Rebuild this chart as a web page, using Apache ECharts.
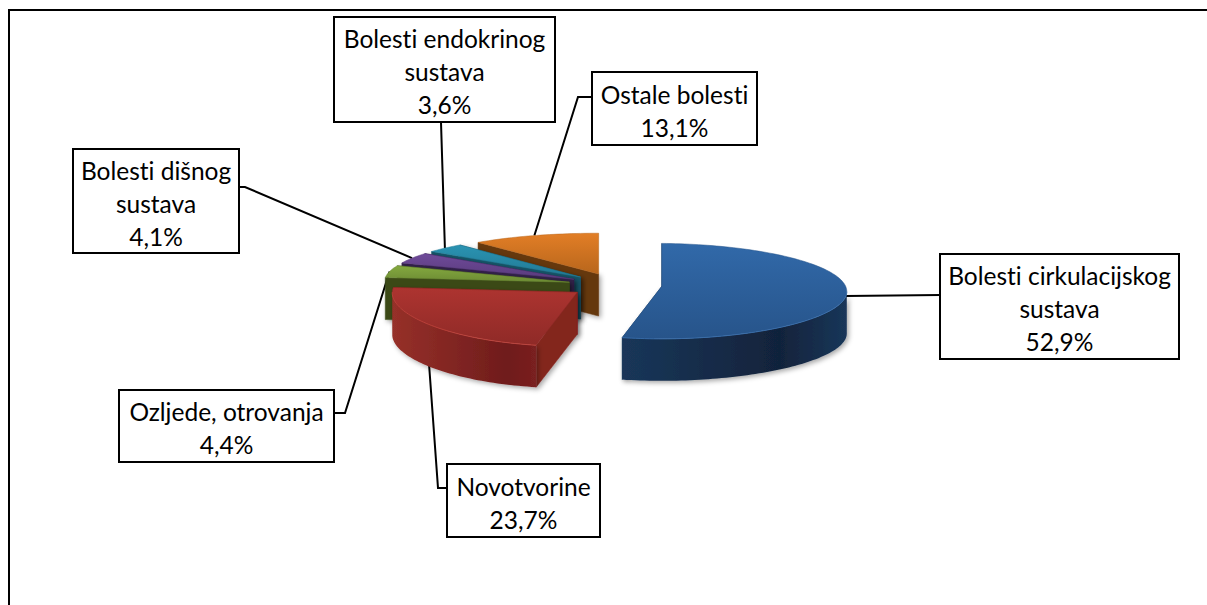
<!DOCTYPE html>
<html><head><meta charset="utf-8">
<style>html,body{margin:0;padding:0;background:#fff}#c{width:1207px;height:605px}
svg text{font-variant-ligatures:none !important;font-feature-settings:"liga" 0,"clig" 0 !important}</style>
<script src="https://cdn.jsdelivr.net/npm/echarts@6/dist/echarts.min.js"></script>
</head><body><div id="c"></div>
<script>
// ---- data ----
const categories = ['Bolesti cirkulacijskog sustava','Novotvorine','Ozljede, otrovanja','Bolesti dišnog sustava','Bolesti endokrinog sustava','Ostale bolesti'];
// printed percentages
const printedLabels = ['52,9%','23,7%','4,4%','4,1%','3,6%','13,1%'];
// slice shares as drawn (the orange slice is drawn about 11,3 % wide)
const sliceShares = [52.9,23.7,4.4,4.1,3.6,11.3];
const labelLines = [['Bolesti cirkulacijskog','sustava'],['Novotvorine'],['Ozljede, otrovanja'],['Bolesti dišnog','sustava'],['Bolesti endokrinog','sustava'],['Ostale bolesti']];

// ---- styles and layout ----
const topColors = [['#3169a9','#27548a'],['#ad3430','#8f2a27'],['#84a93f','#6c8b34'],['#6f4a99','#593b7c'],['#2a93b2','#227a95'],['#e27e26','#b8661c']];
const sideStops = [['#1f4068','#11233b','#1a3659'],['#963029','#6f1c1c','#7a2020'],['#3f4e1a','#39471a','#39471a'],['#3a2552','#33204a','#33204a'],['#1a5a70','#164d60','#164d60'],['#6b3a0d','#613409','#6b3a0d']];
const cutColors = ['#1a3659','#83251f','#3b4a18','#33204a','#185468','#65370c'];
const boxes = [[940,254,239,105],[447,464,153,73],[119,390,215,72],[73,149,166,104],[334,17,221,105],[592,72,165,73]];
const leaderElbows = [[[940,295]],[[438,488],[447,488]],[[345,413],[334,413]],[[245,187],[239,187]],[[441,122]],[[578,97],[592,97]]];
const drawOrder = [5,4,3,2,0,1];
const CX=615, CY=285, RX=185, RY=47, PERSP=0.1, EXPLODE=0.254, THICK=42, LINE_H=33;

function project(u,v){
  const s=1/(1-PERSP*v), sag=u>0?3.5*u*u:0, skew=v>0?6*v*v:0;
  return [CX+RX*u-skew, CY+RY*v*s+sag];
}
const total = sliceShares.reduce((a,b)=>a+b,0);
function geometry(i){
  let before=0; for(let k=0;k<i;k++) before+=sliceShares[k];
  const a0=before/total*2*Math.PI, a1=(before+sliceShares[i])/total*2*Math.PI, mid=(a0+a1)/2;
  const ox=Math.sin(mid)*EXPLODE, oy=-Math.cos(mid)*EXPLODE;
  const at=a=>project(ox+Math.sin(a),oy-Math.cos(a));
  return {a0,a1,mid,at,apex:project(ox,oy)};
}
const down=(p,h)=>[p[0],p[1]+h];

function renderItem(params,api){
  const i=params.dataIndex, g=geometry(i), z=drawOrder.indexOf(i)*10+10, ch=[];
  const n=Math.max(6,Math.ceil((g.a1-g.a0)*40));
  const arc=[];for(let k=0;k<=n;k++)arc.push(g.at(g.a0+(g.a1-g.a0)*k/n));
  const shadow={shadowBlur:5,shadowColor:'rgba(0,0,0,0.35)',shadowOffsetX:2,shadowOffsetY:2};
  // radial cut faces
  const faces=[g.at(g.a0),g.at(g.a1)].sort((p,q)=>p[1]-q[1]);
  faces.forEach((p,k)=>ch.push({type:'polygon',z2:z+k,shape:{points:[g.apex,p,down(p,THICK),down(g.apex,THICK)]},
    style:Object.assign({fill:cutColors[i],stroke:cutColors[i],lineWidth:0.5},shadow)}));
  // outer wall, only the part facing the viewer
  const lo=Math.max(g.a0,Math.PI/2), hi=Math.min(g.a1,Math.PI*1.5);
  if(hi>lo){
    const w=[],m=Math.ceil((hi-lo)*40);
    for(let k=0;k<=m;k++)w.push(g.at(lo+(hi-lo)*k/m));
    const poly=w.concat(w.slice().reverse().map(p=>down(p,THICK)));
    const s=sideStops[i];
    const fill=new echarts.graphic.LinearGradient(0,0,1,0,i===0
      ?[{offset:0,color:s[2]},{offset:0.7,color:s[1]},{offset:1,color:s[2]}]
      :[{offset:0,color:s[0]},{offset:0.8,color:s[1]},{offset:1,color:s[2]}]);
    ch.push({type:'polygon',z2:z+2,shape:{points:poly},style:Object.assign({fill},shadow)});
  }
  // top surface
  const t=topColors[i];
  ch.push({type:'polygon',z2:z+3,shape:{points:[g.apex].concat(arc)},
    style:{fill:new echarts.graphic.LinearGradient(0,0,0,1,[{offset:0,color:t[0]},{offset:1,color:t[1]}]),stroke:t[1],lineWidth:0.5}});
  // small bevel highlight on the front rim
  if(hi>lo){
    const b=[],m=Math.ceil((hi-lo)*40);
    for(let k=0;k<=m;k++)b.push(g.at(lo+(hi-lo)*k/m));
    ch.push({type:'polyline',z2:z+4,shape:{points:b},style:{fill:'none',stroke:i===1?'#c4463f':'#3a6fae',lineWidth:1,opacity:0.8}});
  }
  // leader line (below the pie), from the rim to the label box
  const anchor=g.at(g.mid);
  ch.push({type:'polyline',z2:1,shape:{points:[anchor].concat(leaderElbows[i])},style:{fill:'none',stroke:'#000',lineWidth:2}});
  // label box
  const b=boxes[i], lines=labelLines[i].concat([api.value(2)]);
  ch.push({type:'rect',z2:80,shape:{x:b[0],y:b[1],width:b[2],height:b[3]},style:{fill:'#fff',stroke:'#000',lineWidth:2}});
  const top=b[1]+b[3]/2-(lines.length-1)*LINE_H/2;
  lines.forEach((l,k)=>ch.push({type:'text',z2:81,x:b[0]+b[2]/2,y:top+k*LINE_H+2,
    style:{text:l,font:'24.5px Lato, Carlito, "Open Sans", sans-serif',fill:'#000',align:'center',verticalAlign:'middle'}}));
  return {type:'group',children:ch};
}

const chart=echarts.init(document.getElementById('c'),null,{renderer:'svg'});
chart.setOption({
  animation:false,
  backgroundColor:'#fff',
  graphic:[{type:'polyline',silent:true,z:0,shape:{points:[[9,700],[9,10],[1300,10]]},style:{fill:'none',stroke:'#000',lineWidth:2}}],
  series:[{type:'custom',coordinateSystem:'none',renderItem,clip:false,silent:true,z:2,
    data:categories.map((c,i)=>({name:c,value:[i,sliceShares[i],printedLabels[i]]})),
    encode:{}}]
});
</script></body></html>
